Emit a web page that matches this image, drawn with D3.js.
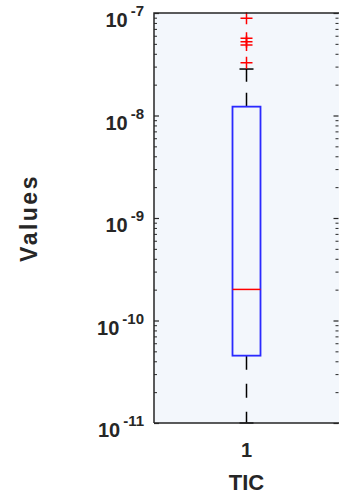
<!DOCTYPE html>
<html>
<head>
<meta charset="utf-8">
<script src="https://cdn.jsdelivr.net/npm/d3@7"></script>
<style>
  body { margin: 0; background: #fff; }
  svg { display: block; font-family: "Liberation Sans", Arial, sans-serif; }
</style>
</head>
<body>
<div id="chart"></div>
<script>
const width = 339;
const height = 499;
const margin = {top: 13, right: 0, bottom: 76, left: 154};

// box statistics
const categories = ["1"];
const lowerWhisker = [1.0e-11];
const q1 = [4.54e-11];
const median = [2.01e-10];
const q3 = [1.22e-8];
const upperWhisker = [2.84e-8];
const outliers = [[3.27e-8, 4.88e-8, 5.25e-8, 5.66e-8, 8.88e-8]];

const yDomain = [1e-11, 1e-7];
const majorTicks = [1e-11, 1e-10, 1e-9, 1e-8, 1e-7];
const xLabel = "TIC";
const yLabel = "Values";

const axisColor = "#262626";

const svg = d3.select("#chart")
  .append("svg")
    .attr("width", width)
    .attr("height", height);

const x = d3.scaleBand()
    .domain(categories)
    .range([margin.left, width - margin.right])
    .paddingInner(0)
    .paddingOuter(0);

const y = d3.scaleLog()
    .domain(yDomain)
    .range([height - margin.bottom, margin.top]);

// plot background
svg.append("rect")
    .attr("x", margin.left)
    .attr("y", margin.top)
    .attr("width", width - margin.right - margin.left)
    .attr("height", height - margin.bottom - margin.top)
    .attr("fill", "#f3f7fc");

// minor ticks: 2..9 per decade
const minorTicks = [];
for (let e = -11; e < -7; e++) {
  for (let m = 2; m <= 9; m++) minorTicks.push(m * Math.pow(10, e));
}

function drawTicks(side) {
  const axis = side === "left" ? d3.axisLeft(y) : d3.axisRight(y);
  const xPos = side === "left" ? margin.left : width - margin.right - 0.5;
  const gMinor = svg.append("g")
      .attr("transform", `translate(${xPos},0)`)
      .call(axis.tickValues(minorTicks).tickSize(-3).tickFormat(""));
  gMinor.select(".domain").remove();
  gMinor.selectAll("line").attr("stroke", axisColor).attr("stroke-width", 1);

  const axis2 = side === "left" ? d3.axisLeft(y) : d3.axisRight(y);
  const gMajor = svg.append("g")
      .attr("transform", `translate(${xPos},0)`)
      .call(axis2.tickValues(majorTicks).tickSize(-5).tickFormat(""));
  gMajor.select(".domain").remove();
  gMajor.selectAll("line").attr("stroke", axisColor).attr("stroke-width", 1.2);
}
drawTicks("left");
drawTicks("right");

// y tick labels as 10^n
const yLabels = svg.append("g")
    .attr("fill", axisColor)
    .attr("font-weight", "bold")
    .attr("text-anchor", "end");

majorTicks.forEach(v => {
  const t = yLabels.append("text")
      .attr("x", margin.left - 10)
      .attr("y", y(v) + 14);
  t.append("tspan")
      .attr("font-size", 20)
      .text("10");
  t.append("tspan")
      .attr("font-size", 15)
      .attr("dx", 3)
      .attr("dy", -11)
      .text(Math.round(Math.log10(v)));
});

// x tick labels
svg.append("g")
  .selectAll("text")
  .data(categories)
  .join("text")
    .attr("x", d => x(d) + x.bandwidth() / 2)
    .attr("y", height - margin.bottom + 34)
    .attr("text-anchor", "middle")
    .attr("font-size", 20)
    .attr("font-weight", "bold")
    .attr("fill", axisColor)
    .text(d => d);

// axis labels
svg.append("text")
    .attr("x", x(categories[0]) + x.bandwidth() / 2)
    .attr("y", height - 9)
    .attr("text-anchor", "middle")
    .attr("font-size", 22)
    .attr("font-weight", "bold")
    .attr("fill", axisColor)
    .text(xLabel);

svg.append("text")
    .attr("transform", `translate(37,${(margin.top + height - margin.bottom) / 2}) rotate(-90)`)
    .attr("text-anchor", "middle")
    .attr("font-size", 23)
    .attr("font-weight", "bold")
    .attr("letter-spacing", 2.5)
    .attr("fill", axisColor)
    .text(yLabel);

// boxes
const boxWidth = 28;
const capWidth = 14;
const boxes = svg.append("g")
  .selectAll("g")
  .data(categories)
  .join("g");

boxes.each(function(c, i) {
  const g = d3.select(this);
  const cx = x(c) + x.bandwidth() / 2;

  // whiskers
  g.append("line")
      .attr("x1", cx).attr("x2", cx)
      .attr("y1", y(q3[i])).attr("y2", y(upperWhisker[i]))
      .attr("stroke", "#000").attr("stroke-width", 1.5)
      .attr("stroke-dasharray", "14,11");
  g.append("line")
      .attr("x1", cx).attr("x2", cx)
      .attr("y1", y(q1[i])).attr("y2", y(lowerWhisker[i]))
      .attr("stroke", "#000").attr("stroke-width", 1.5)
      .attr("stroke-dasharray", "14,14");
  [upperWhisker[i], lowerWhisker[i]].forEach(v => {
    g.append("line")
        .attr("x1", cx - capWidth / 2).attr("x2", cx + capWidth / 2)
        .attr("y1", y(v)).attr("y2", y(v))
        .attr("stroke", "#000").attr("stroke-width", 1.5);
  });

  // box
  g.append("rect")
      .attr("x", cx - boxWidth / 2)
      .attr("y", y(q3[i]))
      .attr("width", boxWidth)
      .attr("height", y(q1[i]) - y(q3[i]))
      .attr("fill", "none")
      .attr("stroke", "#2a2aff")
      .attr("stroke-width", 1.8);

  // median
  g.append("line")
      .attr("x1", cx - boxWidth / 2).attr("x2", cx + boxWidth / 2)
      .attr("y1", y(median[i])).attr("y2", y(median[i]))
      .attr("stroke", "#ff0000").attr("stroke-width", 1.5);

  // outliers
  g.selectAll("path.out")
    .data(outliers[i])
    .join("path")
      .attr("class", "out")
      .attr("d", v => `M${cx - 6},${y(v)}H${cx + 6}M${cx},${y(v) - 6}V${y(v) + 6}`)
      .attr("stroke", "#ff0000")
      .attr("stroke-width", 1.5)
      .attr("fill", "none");
});

// frame
svg.append("path")
    .attr("d", `M${margin.left},${height - margin.bottom}V${margin.top}H${width}M${margin.left},${height - margin.bottom}H${width}`)
    .attr("fill", "none")
    .attr("stroke", axisColor)
    .attr("stroke-width", 1.5);
</script>
</body>
</html>
